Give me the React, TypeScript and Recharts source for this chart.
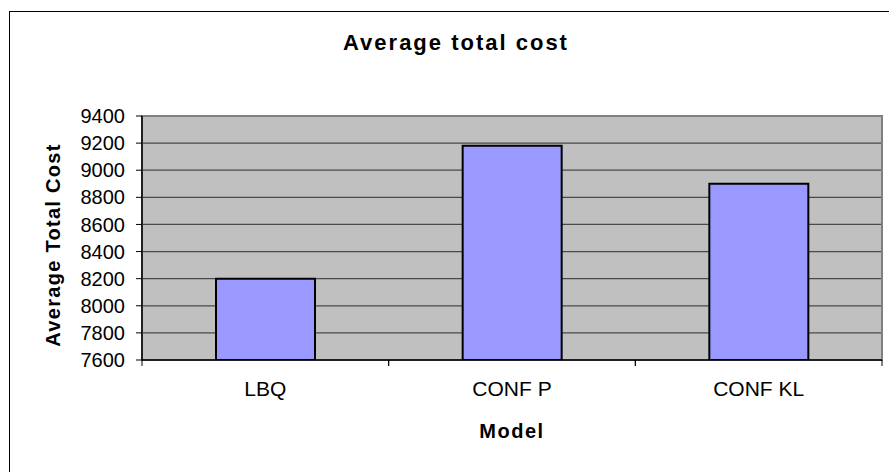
import React from 'react';
import { BarChart, Bar, XAxis, YAxis, CartesianGrid, ReferenceArea } from 'recharts';

const categories = ['LBQ', 'CONF P', 'CONF KL'];
const avgTotalCost = [8200, 9180, 8900];
const yTicks = [7600, 7800, 8000, 8200, 8400, 8600, 8800, 9000, 9200, 9400];

const data = categories.map((model, i) => ({ model, cost: avgTotalCost[i] }));

const FONT = '"Liberation Sans", Arial, sans-serif';
const X_TICK_SIZE = 6;
const X_TICK_MARGIN = 15;

const YLabel = (props: any) => {
  const vb = props.viewBox || { x: 0, y: 116, width: 142, height: 244 };
  const cx = vb.x + 53;
  const cy = vb.y + vb.height / 2 + 7;
  return (
    <text
      x={cx}
      y={cy}
      transform={`rotate(-90 ${cx} ${cy})`}
      textAnchor="middle"
      dominantBaseline="central"
      fontFamily={FONT}
      fontWeight="bold"
      fontSize={20}
      letterSpacing={1.3}
      fill="#000"
    >
      Average Total Cost
    </text>
  );
};

const XLabel = (props: any) => {
  const vb = props.viewBox || { x: 142, y: 360, width: 740, height: 112 };
  const cx = vb.x + vb.width / 2;
  return (
    <text
      x={cx}
      y={vb.y + 78}
      textAnchor="middle"
      fontFamily={FONT}
      fontWeight="bold"
      fontSize={20}
      letterSpacing={1.5}
      fill="#000"
    >
      Model
    </text>
  );
};

const CategoryTick = (props: any) => {
  const { x, y, payload } = props;
  const half = payload && payload.offset ? payload.offset : 0;
  const axisY = y - X_TICK_SIZE - X_TICK_MARGIN;
  return (
    <g>
      {half > 0 && (
        <>
          <line x1={x - half} x2={x - half} y1={axisY} y2={axisY + X_TICK_SIZE} stroke="#000" strokeWidth={1} />
          <line x1={x + half} x2={x + half} y1={axisY} y2={axisY + X_TICK_SIZE} stroke="#000" strokeWidth={1} />
        </>
      )}
      <text
        x={x}
        y={y}
        dy="0.71em"
        textAnchor="middle"
        fontFamily={FONT}
        fontSize={21}
        fill="#000"
      >
        {payload ? payload.value : ''}
      </text>
    </g>
  );
};

export default function App() {
  return (
    <div
      style={{
        position: 'fixed',
        left: 0,
        top: 0,
        width: 889,
        height: 472,
        overflow: 'hidden',
        background: '#fff',
      }}
    >
      <div
        style={{
          position: 'absolute',
          left: 9,
          top: 11,
          width: 880,
          height: 0,
          borderTop: '1px solid #000',
        }}
      />
      <div
        style={{
          position: 'absolute',
          left: 9,
          top: 11,
          width: 0,
          height: 461,
          borderLeft: '1px solid #000',
        }}
      />
      <div
        style={{
          position: 'absolute',
          left: 0,
          width: 912,
          top: 30,
          textAlign: 'center',
          fontFamily: FONT,
          fontWeight: 'bold',
          fontSize: 22,
          letterSpacing: 2,
          lineHeight: '26px',
          color: '#000',
        }}
      >
        Average total cost
      </div>
      <div style={{ position: 'absolute', left: 0, top: 0 }}>
        <BarChart
          width={889}
          height={472}
          data={data}
          margin={{ top: 116, right: 7, bottom: 0, left: 0 }}
          barCategoryGap="30%"
        >
          <CartesianGrid vertical={false} fill="#c0c0c0" stroke="#4a4a4a" strokeWidth={1.2} />
          <ReferenceArea y1={7600} y2={9400} fill="none" stroke="#808080" strokeWidth={2} />
          <XAxis
            dataKey="model"
            height={112}
            tickLine={false}
            tickSize={X_TICK_SIZE}
            tickMargin={X_TICK_MARGIN}
            axisLine={{ stroke: '#000', strokeWidth: 1.5 }}
            tick={<CategoryTick />}
            interval={0}
            label={<XLabel />}
          />
          <YAxis
            width={142}
            domain={[7600, 9400]}
            ticks={yTicks}
            interval={0}
            allowDataOverflow
            tickSize={6}
            tickMargin={11}
            tickLine={{ stroke: '#000', strokeWidth: 1 }}
            axisLine={{ stroke: '#000', strokeWidth: 1.5 }}
            tick={{ fill: '#000', fontFamily: FONT, fontSize: 20 }}
            label={<YLabel />}
          />
          <Bar
            dataKey="cost"
            fill="#9999ff"
            stroke="#000"
            strokeWidth={2}
            isAnimationActive={false}
          />
        </BarChart>
      </div>
    </div>
  );
}
